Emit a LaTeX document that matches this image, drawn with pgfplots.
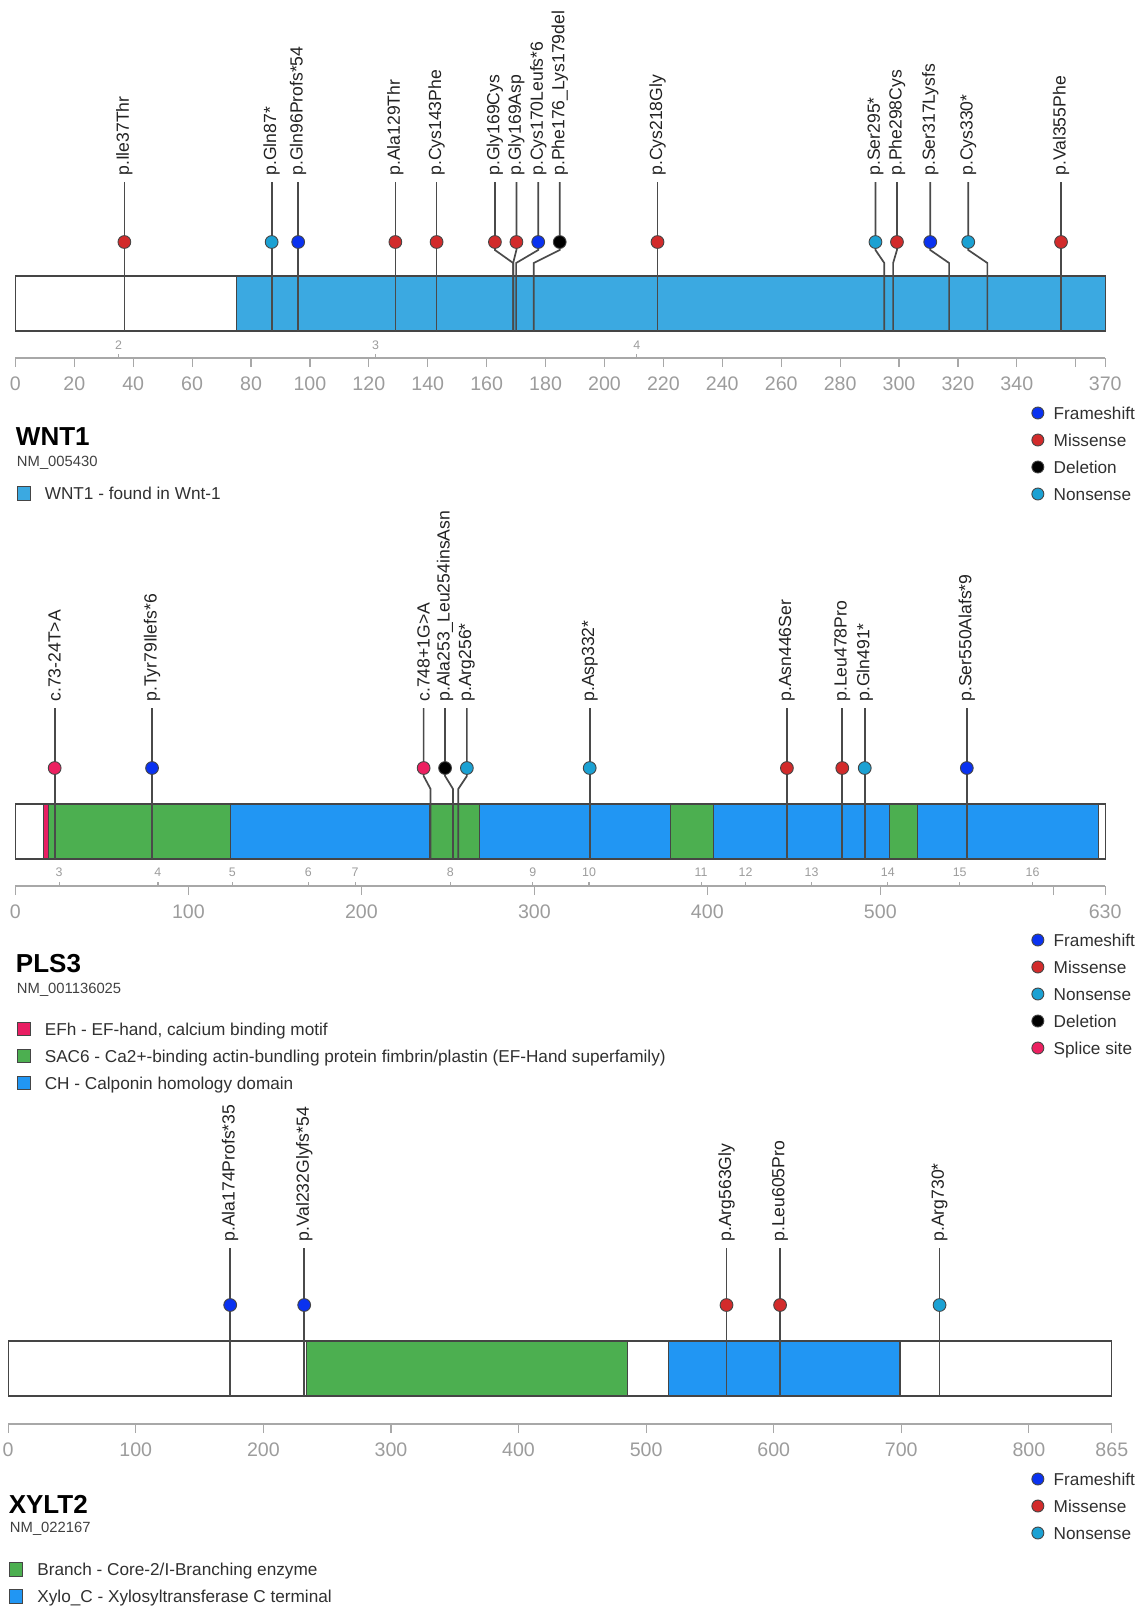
\documentclass[border=0pt]{standalone}
\usepackage{fontspec}
\setmainfont{Liberation Sans}
\usepackage{pgfplots}
\pgfplotsset{compat=1.18}

% palette
\definecolor{wntblue}{HTML}{3BA9E1}
\definecolor{chblue}{HTML}{2196F3}
\definecolor{domgreen}{HTML}{4CAF50}
\definecolor{efhred}{HTML}{E91E63}
\definecolor{fsblue}{HTML}{0A32F0}
\definecolor{misred}{HTML}{D22B2B}
\definecolor{noncyan}{HTML}{1BA1D3}
\definecolor{splice}{HTML}{EC2060}
\definecolor{outline}{HTML}{454545}
\definecolor{stemcol}{HTML}{4A4A4A}
\definecolor{tickgrey}{HTML}{A8A8A8}
\definecolor{ticktext}{HTML}{9C9C9C}
\definecolor{labeltext}{HTML}{222222}
\definecolor{legtext}{HTML}{303030}
\definecolor{nmgrey}{HTML}{404040}

\newcommand{\labfont}{\fontsize{8.8}{10}\selectfont}
\newcommand{\tickfont}{\fontsize{9.8}{11}\selectfont}
\newcommand{\exonfont}{\fontsize{6.2}{7}\selectfont}
\newcommand{\legfont}{\fontsize{8.6}{10}\selectfont}
\newcommand{\titlefont}{\bfseries\fontsize{13}{15}\selectfont}
\newcommand{\nmfont}{\fontsize{7.4}{9}\selectfont}

\pgfplotsset{
  gene/.style={
    scale only axis, clip=false, enlargelimits=false,
    axis x line*=bottom, axis y line=none,
    x axis line style={draw=tickgrey, line width=0.6pt},
    xtick align=outside, major tick length=4.5pt,
    xtick style={draw=tickgrey, line width=0.6pt},
    xticklabel style={font=\tickfont, text=ticktext, yshift=-1.5pt},
    /pgf/number format/assume math mode=true,
    /pgf/number format/1000 sep={},
    y=0.5pt,
  },
  stem/.style={draw=stemcol, line width=0.85pt, mark=none},
  lolli/.style={only marks, mark=*, mark size=3.2pt,
    mark options={draw=outline, line width=0.45pt, fill=#1}},
  dom/.style={fill=#1, draw=outline, line width=0.55pt, mark=none},
  mutlabels/.style={draw=none, mark=none, nodes near coords,
    point meta=explicit symbolic,
    nodes near coords style={rotate=90, anchor=west, inner xsep=3pt,
      inner ysep=0pt, font=\labfont, text=labeltext}},
  exonmarks/.style={only marks, mark=|, mark size=1pt,
    mark options={draw=tickgrey, line width=0.6pt}},
  exonnums/.style={draw=none, mark=none, nodes near coords,
    point meta=explicit symbolic,
    nodes near coords style={anchor=center, inner sep=0pt,
      font=\exonfont, text=ticktext}},
  legendbox/.style={hide axis, scale only axis, width=1pt, height=1pt,
    xmin=0, xmax=1, ymin=0, ymax=1, anchor=north west,
    legend cell align=left,
    legend style={at={(0,1)}, anchor=north west, draw=none, fill=none,
      inner sep=0pt, outer sep=0pt, font=\legfont,
      nodes={inner sep=0pt, text height=7.5pt, text depth=1.5pt, text=legtext},
      row sep=4.5pt,
      /tikz/every odd column/.append style={column sep=#1}}},
  typeentry/.style={legend image code/.code={%
    \draw[fill=#1, draw=outline, line width=0.45pt] (3pt,0pt) circle (3pt);}},
  domentry/.style={legend image code/.code={%
    \draw[fill=#1, draw=outline, line width=0.5pt] (0pt,-3.3pt) rectangle (6.6pt,3.3pt);}},
}

\begin{document}
\begin{tikzpicture}

%================ WNT1 ================
\begin{axis}[gene, at={(7.7pt,-179pt)}, anchor=south west,
  x=1.4727pt, xmin=0, xmax=370, ymin=-358, ymax=-276,
  xtick={0,20,...,340,370}, extra x ticks={360}, extra x tick labels={}]
  % protein bar and domain
  \addplot[dom=white] coordinates {(0,-276) (370,-276) (370,-331) (0,-331)} --cycle;
  \addplot[dom=wntblue] coordinates {(75,-276) (370,-276) (370,-331) (75,-331)} --cycle;
  % stems: label position -> residue
  \addplot[stem] coordinates {(37,-182) (37,-331)};
  \addplot[stem] coordinates {(87,-182) (87,-331)};
  \addplot[stem] coordinates {(96,-182) (96,-331)};
  \addplot[stem] coordinates {(129,-182) (129,-331)};
  \addplot[stem] coordinates {(143,-182) (143,-331)};
  \addplot[stem] coordinates {(162.8,-182) (162.8,-250) (169,-263) (169,-331)};
  \addplot[stem] coordinates {(170.1,-182) (170.1,-250) (169,-263) (169,-331)};
  \addplot[stem] coordinates {(177.5,-182) (177.5,-250) (170,-263) (170,-331)};
  \addplot[stem] coordinates {(184.8,-182) (184.8,-250) (176,-263) (176,-331)};
  \addplot[stem] coordinates {(218,-182) (218,-331)};
  \addplot[stem] coordinates {(292,-182) (292,-250) (295,-263) (295,-331)};
  \addplot[stem] coordinates {(299.3,-182) (299.3,-250) (298,-263) (298,-331)};
  \addplot[stem] coordinates {(310.6,-182) (310.6,-250) (317,-263) (317,-331)};
  \addplot[stem] coordinates {(323.5,-182) (323.5,-250) (330,-263) (330,-331)};
  \addplot[stem] coordinates {(355,-182) (355,-331)};
  % heads
  \addplot[lolli=misred] coordinates {(37,-242) (129,-242) (143,-242) (162.8,-242) (170.1,-242) (218,-242) (299.3,-242) (355,-242)};
  \addplot[lolli=noncyan] coordinates {(87,-242) (292,-242) (323.5,-242)};
  \addplot[lolli=fsblue] coordinates {(96,-242) (177.5,-242) (310.6,-242)};
  \addplot[lolli=black] coordinates {(184.8,-242)};
  % variant names
  \addplot[mutlabels] coordinates {
    (37,-182) [p.Ile37Thr]
    (87,-182) [p.Gln87*]
    (96,-182) [p.Gln96Profs*54]
    (129,-182) [p.Ala129Thr]
    (143,-182) [p.Cys143Phe]
    (162.8,-182) [p.Gly169Cys]
    (170.1,-182) [p.Gly169Asp]
    (177.5,-182) [p.Cys170Leufs*6]
    (184.8,-182) [p.Phe176\_Lys179del]
    (218,-182) [p.Cys218Gly]
    (292,-182) [p.Ser295*]
    (299.3,-182) [p.Phe298Cys]
    (310.6,-182) [p.Ser317Lysfs]
    (323.5,-182) [p.Cys330*]
    (355,-182) [p.Val355Phe]};
  % exon boundaries
  \addplot[exonmarks] coordinates {(35,-356) (122.3,-356) (211,-356)};
  \addplot[exonnums] coordinates {(35,-345) [2] (122.3,-345) [3] (211,-345) [4]};
\end{axis}
\node[anchor=base west, font=\titlefont, inner sep=0pt] at (7.8pt,-222.5pt) {WNT1};
\node[anchor=base west, font=\nmfont, text=nmgrey, inner sep=0pt] at (8.3pt,-233pt) {NM\_005430};
\begin{axis}[legendbox=4.7pt, at={(515.7pt,-202pt)}]
  \addlegendimage{typeentry=fsblue}\addlegendentry{Frameshift}
  \addlegendimage{typeentry=misred}\addlegendentry{Missense}
  \addlegendimage{typeentry=black}\addlegendentry{Deletion}
  \addlegendimage{typeentry=noncyan}\addlegendentry{Nonsense}
\end{axis}
\begin{axis}[legendbox=7.0pt, at={(8.3pt,-242.25pt)}]
  \addlegendimage{domentry=wntblue}\addlegendentry{WNT1 - found in Wnt-1}
\end{axis}

%================ PLS3 ================
\begin{axis}[gene, at={(7.7pt,-443pt)}, anchor=south west,
  x=0.86492pt, xmin=0, xmax=630, ymin=-886, ymax=-804,
  xtick={0,100,...,500,630}, extra x ticks={600}, extra x tick labels={}]
  \addplot[dom=white] coordinates {(0,-804) (630,-804) (630,-859) (0,-859)} --cycle;
  \addplot[dom=efhred] coordinates {(16.4,-804) (19,-804) (19,-859) (16.4,-859)} --cycle;
  \addplot[dom=domgreen] coordinates {(19,-804) (124.3,-804) (124.3,-859) (19,-859)} --cycle;
  \addplot[dom=chblue] coordinates {(124.3,-804) (239.3,-804) (239.3,-859) (124.3,-859)} --cycle;
  \addplot[dom=domgreen] coordinates {(239.3,-804) (268.5,-804) (268.5,-859) (239.3,-859)} --cycle;
  \addplot[dom=chblue] coordinates {(268.5,-804) (378.5,-804) (378.5,-859) (268.5,-859)} --cycle;
  \addplot[dom=domgreen] coordinates {(378.5,-804) (403.4,-804) (403.4,-859) (378.5,-859)} --cycle;
  \addplot[dom=chblue] coordinates {(403.4,-804) (505.1,-804) (505.1,-859) (403.4,-859)} --cycle;
  \addplot[dom=domgreen] coordinates {(505.1,-804) (521.3,-804) (521.3,-859) (505.1,-859)} --cycle;
  \addplot[dom=chblue] coordinates {(521.3,-804) (625.9,-804) (625.9,-859) (521.3,-859)} --cycle;
  % stems
  \addplot[stem] coordinates {(22.7,-708) (22.7,-859)};
  \addplot[stem] coordinates {(79,-708) (79,-859)};
  \addplot[stem] coordinates {(236,-708) (236,-776) (240,-789) (240,-859)};
  \addplot[stem] coordinates {(248.4,-708) (248.4,-776) (253,-789) (253,-859)};
  \addplot[stem] coordinates {(261,-708) (261,-776) (256,-789) (256,-859)};
  \addplot[stem] coordinates {(332,-708) (332,-859)};
  \addplot[stem] coordinates {(446,-708) (446,-859)};
  \addplot[stem] coordinates {(478,-708) (478,-859)};
  \addplot[stem] coordinates {(491,-708) (491,-859)};
  \addplot[stem] coordinates {(550,-708) (550,-859)};
  % heads
  \addplot[lolli=splice] coordinates {(22.7,-768) (236,-768)};
  \addplot[lolli=fsblue] coordinates {(79,-768) (550,-768)};
  \addplot[lolli=black] coordinates {(248.4,-768)};
  \addplot[lolli=noncyan] coordinates {(261,-768) (332,-768) (491,-768)};
  \addplot[lolli=misred] coordinates {(446,-768) (478,-768)};
  \addplot[mutlabels] coordinates {
    (22.7,-708) [c.73-24T>A]
    (79,-708) [p.Tyr79Ilefs*6]
    (236,-708) [c.748+1G>A]
    (248.4,-708) [p.Ala253\_Leu254insAsn]
    (261,-708) [p.Arg256*]
    (332,-708) [p.Asp332*]
    (446,-708) [p.Asn446Ser]
    (478,-708) [p.Leu478Pro]
    (491,-708) [p.Gln491*]
    (550,-708) [p.Ser550Alafs*9]};
  \addplot[exonmarks] coordinates {(25.3,-884) (82.4,-884) (125.4,-884) (169.3,-884)
    (196.4,-884) (251.4,-884) (299.1,-884) (331.6,-884) (396.4,-884) (422.1,-884)
    (460.3,-884) (504.3,-884) (545.9,-884) (588,-884)};
  \addplot[exonnums] coordinates {(25.3,-872.5) [3] (82.4,-872.5) [4] (125.4,-872.5) [5]
    (169.3,-872.5) [6] (196.4,-872.5) [7] (251.4,-872.5) [8] (299.1,-872.5) [9]
    (331.6,-872.5) [10] (396.4,-872.5) [11] (422.1,-872.5) [12] (460.3,-872.5) [13]
    (504.3,-872.5) [14] (545.9,-872.5) [15] (588,-872.5) [16]};
\end{axis}
\node[anchor=base west, font=\titlefont, inner sep=0pt] at (7.8pt,-486pt) {PLS3};
\node[anchor=base west, font=\nmfont, text=nmgrey, inner sep=0pt] at (8.3pt,-496.7pt) {NM\_001136025};
\begin{axis}[legendbox=4.7pt, at={(515.7pt,-465.5pt)}]
  \addlegendimage{typeentry=fsblue}\addlegendentry{Frameshift}
  \addlegendimage{typeentry=misred}\addlegendentry{Missense}
  \addlegendimage{typeentry=noncyan}\addlegendentry{Nonsense}
  \addlegendimage{typeentry=black}\addlegendentry{Deletion}
  \addlegendimage{typeentry=splice}\addlegendentry{Splice site}
\end{axis}
\begin{axis}[legendbox=7.0pt, at={(8.3pt,-510pt)}]
  \addlegendimage{domentry=efhred}\addlegendentry{EFh - EF-hand, calcium binding motif}
  \addlegendimage{domentry=domgreen}\addlegendentry{SAC6 - Ca2+-binding actin-bundling protein fimbrin/plastin (EF-Hand superfamily)}
  \addlegendimage{domentry=chblue}\addlegendentry{CH - Calponin homology domain}
\end{axis}

%================ XYLT2 ================
\begin{axis}[gene, at={(4.1pt,-712pt)}, anchor=south west,
  x=0.63792pt, xmin=0, xmax=865, ymin=-1424, ymax=-1341,
  xtick={0,100,...,800,865}]
  \addplot[dom=white] coordinates {(0,-1341) (865,-1341) (865,-1396) (0,-1396)} --cycle;
  \addplot[dom=domgreen] coordinates {(234,-1341) (485.5,-1341) (485.5,-1396) (234,-1396)} --cycle;
  \addplot[dom=chblue] coordinates {(517.5,-1341) (699,-1341) (699,-1396) (517.5,-1396)} --cycle;
  \addplot[stem] coordinates {(174,-1248) (174,-1396)};
  \addplot[stem] coordinates {(232,-1248) (232,-1396)};
  \addplot[stem] coordinates {(563,-1248) (563,-1396)};
  \addplot[stem] coordinates {(605,-1248) (605,-1396)};
  \addplot[stem] coordinates {(730,-1248) (730,-1396)};
  \addplot[lolli=fsblue] coordinates {(174,-1305) (232,-1305)};
  \addplot[lolli=misred] coordinates {(563,-1305) (605,-1305)};
  \addplot[lolli=noncyan] coordinates {(730,-1305)};
  \addplot[mutlabels] coordinates {
    (174,-1248) [p.Ala174Profs*35]
    (232,-1248) [p.Val232Glyfs*54]
    (563,-1248) [p.Arg563Gly]
    (605,-1248) [p.Leu605Pro]
    (730,-1248) [p.Arg730*]};
\end{axis}
\node[anchor=base west, font=\titlefont, inner sep=0pt] at (4.2pt,-756.8pt) {XYLT2};
\node[anchor=base west, font=\nmfont, text=nmgrey, inner sep=0pt] at (4.8pt,-766.4pt) {NM\_022167};
\begin{axis}[legendbox=4.7pt, at={(515.7pt,-735pt)}]
  \addlegendimage{typeentry=fsblue}\addlegendentry{Frameshift}
  \addlegendimage{typeentry=misred}\addlegendentry{Missense}
  \addlegendimage{typeentry=noncyan}\addlegendentry{Nonsense}
\end{axis}
\begin{axis}[legendbox=7.0pt, at={(4.6pt,-780.2pt)}]
  \addlegendimage{domentry=domgreen}\addlegendentry{Branch - Core-2/I-Branching enzyme}
  \addlegendimage{domentry=chblue}\addlegendentry{Xylo\_C - Xylosyltransferase C terminal}
\end{axis}

\pgfresetboundingbox
\path[use as bounding box] (0pt,0pt) rectangle (571pt,-804pt);
\end{tikzpicture}
\end{document}
